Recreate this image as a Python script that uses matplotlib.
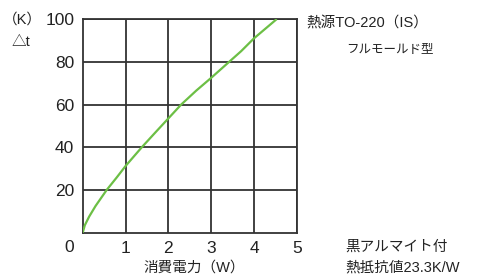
import matplotlib
matplotlib.use('Agg')
import matplotlib.pyplot as plt

plt.rcParams['font.family'] = ['Liberation Sans', 'Noto Sans CJK JP']

# power (W) vs temperature rise (K)
power = [0, 0.05, 0.15, 0.3, 0.56, 0.8, 1.0, 1.38, 1.7, 2.0, 2.3, 2.65, 3.0, 3.42, 3.7, 4.0, 4.53]
delta_t = [0, 3.5, 7.5, 12.5, 20, 26, 31.2, 40, 47, 53.5, 60, 66.5, 72.5, 80, 85, 91, 100]
xticks = [1, 2, 3, 4, 5]
yticks = [20, 40, 60, 80, 100]

txt = '#222222'
fig = plt.figure(figsize=(4.78, 2.77), dpi=100)
ax = fig.add_axes([0.173, 0.16, 0.448, 0.771])

ax.plot(power, delta_t, color='#6cbf45', lw=1.6, solid_capstyle='butt', zorder=3)

ax.set_xlim(0, 5)
ax.set_ylim(0, 100)
ax.set_xticks(xticks)
ax.set_yticks(yticks)
ax.grid(True, color='#333333', lw=1.3)
for s in ax.spines.values():
    s.set_color('#333333')
    s.set_linewidth(1.3)
ax.tick_params(length=0, labelsize=12.5, colors=txt, pad=6)

ax.text(-0.32, -3.5, '0', fontsize=12.5, color=txt, ha='center', va='top')
fig.text(0.406, 0.02, '消費電力（W）', fontsize=10.5, color=txt, ha='center')
fig.text(0.005, 0.915, '（K）', fontsize=10.5, color=txt)
fig.text(0.025, 0.835, '△t', fontsize=10.5, color=txt)
fig.text(0.64, 0.9, '熱源TO-220（IS）', fontsize=10.5, color=txt)
fig.text(0.725, 0.81, 'フルモールド型', fontsize=9, color=txt)
fig.text(0.722, 0.095, '黒アルマイト付', fontsize=10.5, color=txt)
fig.text(0.722, 0.018, '熱抵抗値23.3K/W', fontsize=10.5, color=txt)

fig.savefig('out.png', dpi=100)
